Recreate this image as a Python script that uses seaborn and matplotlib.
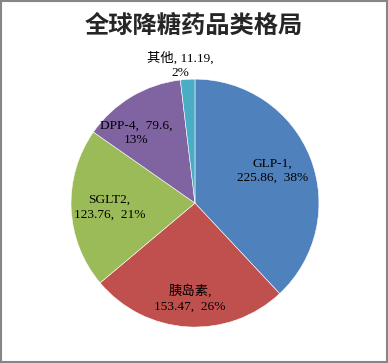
"""全球降糖药品类格局 饼图"""
import matplotlib
matplotlib.use("Agg")
import matplotlib.pyplot as plt
from matplotlib.patches import Rectangle
import numpy as np
import seaborn as sns

CATEGORIES = ["GLP-1", "胰岛素", "SGLT2", "DPP-4", "其他"]
VALUES = [225.86, 153.47, 123.76, 79.6, 11.19]
PERCENTS = ["38%", "26%", "21%", "13%", "2%"]
LABELS = [
    "GLP-1,\n225.86,  38%",
    "胰岛素,\n153.47,  26%",
    "SGLT2,\n123.76,  21%",
    "DPP-4,  79.6,\n13%",
    "其他, 11.19,\n2%",
]
COLORS = ["#4F81BD", "#C0504D", "#9BBB59", "#8064A2", "#4BACC6"]

# 标签离圆心的距离（相对半径）及角度微调
DIST = [0.68, 0.77, 0.69, 0.74, 1.12]
ANG_SHIFT = [1.0, 0.5, 0.0, 9.0, 2.5]

sns.set_theme(style="white")
plt.rcParams["font.family"] = ["Liberation Serif", "Noto Sans CJK SC", "DejaVu Sans"]

fig = plt.figure(figsize=(3.88, 3.63), dpi=100)
ax = fig.add_axes([0.183, 0.099, 0.639, 0.683])

wedges, _ = ax.pie(VALUES, colors=sns.color_palette(COLORS), startangle=90,
                   counterclock=False, radius=1.0,
                   wedgeprops=dict(linewidth=0.4, edgecolor="white"))
ax.set_xlim(-1, 1)
ax.set_ylim(-1, 1)
ax.set_aspect("equal")
ax.axis("off")

for w, lab, d, s in zip(wedges, LABELS, DIST, ANG_SHIFT):
    mid = np.deg2rad((w.theta1 + w.theta2) / 2 + s)
    ax.text(d * np.cos(mid), d * np.sin(mid), lab, ha="center", va="center",
            fontsize=9.6, color="black", linespacing=1.3)

fig.text(0.5, 1 - 26 / 363, "全球降糖药品类格局", ha="center", va="center",
         fontsize=17.5, fontweight="bold",
         family=["Noto Sans CJK SC", "DejaVu Sans"])

fig.add_artist(Rectangle((0.002, 0.003), 0.995, 0.993, transform=fig.transFigure,
                         fill=False, edgecolor="#868686", linewidth=1.5))

fig.savefig("out.png", dpi=100)
plt.close(fig)
